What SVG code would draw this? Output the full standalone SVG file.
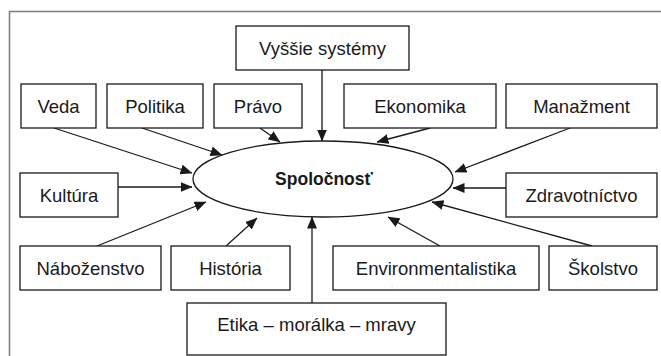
<svg xmlns="http://www.w3.org/2000/svg" width="661" height="356" viewBox="0 0 661 356">
<style>
.box{fill:#fff;stroke:#1a1a1a;stroke-width:1.3}
.t{font-family:"Liberation Sans",Arial,sans-serif;font-size:18.5px;fill:#1a1a1a;text-anchor:middle}
.b{font-weight:bold;font-size:17.5px}
.c{stroke:#1a1a1a;stroke-width:1.3;fill:none;marker-end:url(#ah)}
</style>
<defs>
<marker id="ah" viewBox="0 0 12 10" refX="11.5" refY="5" markerWidth="12" markerHeight="10" markerUnits="userSpaceOnUse" orient="auto">
<path d="M0,0 L12,5 L0,10 Z" fill="#1a1a1a"/>
</marker>
</defs>
<rect width="661" height="356" fill="#fff"/>
<path d="M9.5,356 V11.5 H661" fill="none" stroke="#808080" stroke-width="1.6"/>
<g id="connectors">
<line class="c" x1="322" y1="70" x2="322" y2="141"/>
<line class="c" x1="54" y1="128" x2="192" y2="173"/>
<line class="c" x1="142" y1="128" x2="222" y2="155"/>
<line class="c" x1="260" y1="128" x2="280" y2="142"/>
<line class="c" x1="430" y1="128" x2="377" y2="142"/>
<line class="c" x1="570" y1="128" x2="455" y2="172"/>
<line class="c" x1="118" y1="187" x2="192" y2="187"/>
<line class="c" x1="506" y1="188" x2="453" y2="188"/>
<line class="c" x1="97" y1="246" x2="206" y2="202"/>
<line class="c" x1="226" y1="246" x2="257" y2="218"/>
<line class="c" x1="312" y1="303" x2="312" y2="217"/>
<line class="c" x1="440" y1="246" x2="388" y2="217"/>
<line class="c" x1="592" y1="246" x2="432" y2="202"/>
</g>
<g id="spolocnost">
<ellipse cx="323" cy="179" rx="130" ry="38" fill="none" stroke="#1a1a1a" stroke-width="1.3"/>
<text class="t b" x="324" y="185">Spoločnosť</text>
</g>
<g id="vyssie"><rect class="box" x="236" y="26" width="173" height="44"/><text class="t" x="322.5" y="55">Vyššie systémy</text></g>
<g id="veda"><rect class="box" x="21" y="84" width="75" height="44"/><text class="t" x="58.5" y="113">Veda</text></g>
<g id="politika"><rect class="box" x="107" y="84" width="96" height="44"/><text class="t" x="155" y="113">Politika</text></g>
<g id="pravo"><rect class="box" x="214" y="84" width="88" height="44"/><text class="t" x="258" y="113">Právo</text></g>
<g id="ekonomika"><rect class="box" x="344" y="84" width="152" height="44"/><text class="t" x="420" y="113">Ekonomika</text></g>
<g id="manazment"><rect class="box" x="506" y="84" width="151" height="44"/><text class="t" x="581.5" y="113">Manažment</text></g>
<g id="kultura"><rect class="box" x="20" y="173" width="98" height="44"/><text class="t" x="69" y="202">Kultúra</text></g>
<g id="zdravotnictvo"><rect class="box" x="506" y="173" width="151" height="44"/><text class="t" x="581.5" y="202">Zdravotníctvo</text></g>
<g id="nabozenstvo"><rect class="box" x="20" y="246" width="141" height="44"/><text class="t" x="90.5" y="275">Náboženstvo</text></g>
<g id="historia"><rect class="box" x="171" y="246" width="119" height="44"/><text class="t" x="230.5" y="275">História</text></g>
<g id="environmentalistika"><rect class="box" x="333" y="246" width="206" height="44"/><text class="t" x="436" y="275">Environmentalistika</text></g>
<g id="skolstvo"><rect class="box" x="549" y="246" width="108" height="44"/><text class="t" x="603" y="275">Školstvo</text></g>
<g id="etika"><rect class="box" x="187" y="303" width="259" height="52"/><text class="t" x="316.5" y="331">Etika – morálka – mravy</text></g>
</svg>
